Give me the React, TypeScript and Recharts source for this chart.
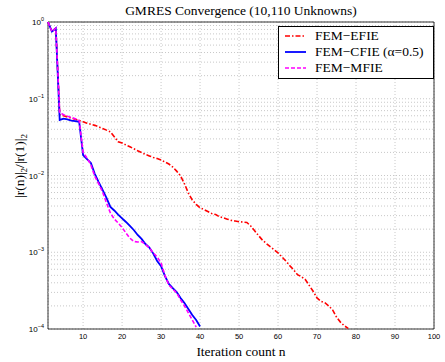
import { LineChart, Line, XAxis, YAxis, CartesianGrid, ReferenceLine, ReferenceArea, Legend } from 'recharts';

// residual norm per GMRES iteration (log scale)
const iterations = Array.from({ length: 78 }, (_, i) => i + 1);

const efie = [
    1, 0.75, 0.83, 0.062, 0.06, 0.058, 0.056, 0.054, 0.052, 0.05,
    0.048, 0.0465, 0.045, 0.043, 0.041, 0.039, 0.037, 0.032, 0.0275, 0.0265,
    0.025, 0.0237, 0.0223, 0.021, 0.0199, 0.0188, 0.018, 0.0172, 0.0166, 0.0159,
    0.015, 0.0141, 0.0129, 0.0114, 0.0099, 0.0078, 0.0059, 0.0048, 0.0042, 0.0038,
    0.0036, 0.0034, 0.0032, 0.0031, 0.0029, 0.0028, 0.0027, 0.0026, 0.00255, 0.0025,
    0.00247, 0.00244, 0.0022, 0.0019, 0.00165, 0.00144, 0.0013, 0.00118, 0.00108, 0.00098,
    0.00087, 0.00077, 0.00067, 0.00059, 0.00051, 0.00048, 0.00044, 0.00037, 0.00031, 0.000254,
    0.00023, 0.00022, 0.0002, 0.000177, 0.000143, 0.000123, 0.00011, 0.000102,
];

const cfie = [
    1, 0.75, 0.83, 0.053, 0.055, 0.054, 0.052, 0.051, 0.05, 0.0185,
    0.0164, 0.0146, 0.0105, 0.0082, 0.0065, 0.0051, 0.0039, 0.0035, 0.0031, 0.00277,
    0.00248, 0.0022, 0.00195, 0.00168, 0.00149, 0.00128, 0.00115, 0.00096, 0.00077, 0.00066,
    0.00049, 0.000386, 0.000342, 0.000303, 0.000254, 0.000218, 0.000182, 0.000152, 0.000131, 0.000108,
];

const mfie = [
    1, 0.75, 0.83, 0.066, 0.062, 0.059, 0.057, 0.055, 0.052, 0.02,
    0.0169, 0.0137, 0.0098, 0.0078, 0.0061, 0.0044, 0.00325, 0.00271, 0.0024, 0.0021,
    0.00178, 0.00153, 0.00138, 0.00136, 0.00138, 0.00126, 0.00114, 0.00098, 0.00087, 0.00072,
    0.0005, 0.000374, 0.000332, 0.000295, 0.000239, 0.0002, 0.000162, 0.000131, 0.000106,
];

const xTicks = [10, 20, 30, 40, 50, 60, 70, 80, 90, 100];
const yTicks = [1e-4, 1e-3, 1e-2, 1e-1, 1];
const yMinor = [2, 3, 4, 5, 6, 7, 8, 9].flatMap((m) => [m * 1e-4, m * 1e-3, m * 1e-2, m * 1e-1]);

const series = [
    { key: 'efie', name: 'FEM\u2212EFIE', color: '#ff0000', dash: '5 2 1.5 2', width: 1.6 },
    { key: 'cfie', name: 'FEM\u2212CFIE (\u03b1=0.5)', color: '#0000ff', dash: undefined, width: 1.8 },
    { key: 'mfie', name: 'FEM\u2212MFIE', color: '#ff00ff', dash: '4 2', width: 1.6 },
];

const data = iterations.map((n, i) => ({
    n,
    efie: efie[i],
    cfie: cfie[i],
    mfie: mfie[i],
}));

const serif = '"Liberation Serif", "Times New Roman", serif';
const sans = '"Liberation Sans", Arial, sans-serif';
const gridStroke = '#c8c8c8';

function YTick({ x, y, payload }: any) {
    const exp = Math.round(Math.log10(payload.value));
    return (
        <text x={x} y={y} dy={3} textAnchor="end" fontSize={8} fontFamily={sans} fill="#000">
            <tspan>10</tspan>
            <tspan dy={-4} fontSize={5.5}>{exp === 0 ? '0' : '\u2212' + -exp}</tspan>
        </text>
    );
}

function LegendBox() {
    return (
        <div
            style={{
                background: '#fff',
                border: '1px solid #000',
                width: 154,
                padding: '1px 0 2px 0',
                fontFamily: serif,
                fontSize: 13.5,
                lineHeight: '16px',
            }}
        >
            {series.map((s) => (
                <div key={s.key} style={{ display: 'flex', alignItems: 'center', height: 16 }}>
                    <svg width={36} height={16}>
                        <line
                            x1={6}
                            x2={27}
                            y1={8}
                            y2={8}
                            stroke={s.color}
                            strokeWidth={s.width}
                            strokeDasharray={s.dash}
                        />
                    </svg>
                    <span>{s.name}</span>
                </div>
            ))}
        </div>
    );
}

export default function App() {
    return (
        <div style={{ position: 'absolute', top: 0, left: 0, background: '#fff' }}>
            <LineChart width={445} height={362} data={data} margin={{ top: 22, right: 11, bottom: 0, left: 0 }}>
                <CartesianGrid stroke={gridStroke} strokeDasharray="1 2" />
                {yMinor.map((v) => (
                    <ReferenceLine key={v} y={v} stroke={gridStroke} strokeDasharray="1 2" />
                ))}
                <XAxis
                    dataKey="n"
                    type="number"
                    domain={[1, 100]}
                    ticks={xTicks}
                    tickSize={0}
                    tickMargin={5}
                    axisLine={false}
                    height={33}
                    tick={{ fontSize: 7.5, fontFamily: sans, fill: '#000' }}
                />
                <YAxis
                    type="number"
                    scale="log"
                    domain={[1e-4, 1]}
                    allowDataOverflow
                    ticks={yTicks}
                    tickSize={0}
                    tickMargin={4}
                    axisLine={false}
                    width={48}
                    tick={<YTick />}
                />
                {series.map((s) => (
                    <Line
                        key={s.key}
                        dataKey={s.key}
                        name={s.name}
                        type="linear"
                        stroke={s.color}
                        strokeWidth={s.width}
                        strokeDasharray={s.dash}
                        dot={false}
                        isAnimationActive={false}
                    />
                ))}
                <ReferenceArea x1={1} x2={100} y1={1e-4} y2={1} fill="none" stroke="#000" strokeWidth={0.8} />
                <Legend
                    layout="vertical"
                    align="center"
                    verticalAlign="middle"
                    content={<LegendBox />}
                    wrapperStyle={{ position: 'absolute', top: 26, left: 278, width: 156 }}
                />
                <text x={241} y={14.5} textAnchor="middle" fontFamily={serif} fontSize={13.5} fill="#000">
                    GMRES Convergence (10,110 Unknowns)
                </text>
                <text x={241} y={356} textAnchor="middle" fontFamily={serif} fontSize={13.5} fill="#000">
                    Iteration count n
                </text>
                <text
                    transform="translate(24,166) rotate(-90)"
                    textAnchor="middle"
                    fontFamily={serif}
                    fontSize={13.5}
                    fill="#000"
                >
                    |r(n)|<tspan dy={3} fontSize={9}>2</tspan>
                    <tspan dy={-3}>/|r(1)|</tspan>
                    <tspan dy={3} fontSize={9}>2</tspan>
                </text>
            </LineChart>
        </div>
    );
}
